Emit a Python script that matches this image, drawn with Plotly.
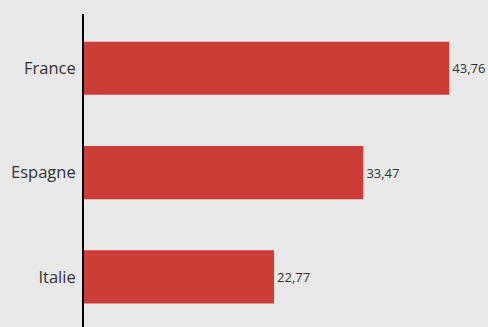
import plotly.graph_objects as go

countries = ["France", "Espagne", "Italie"]
values = [43.76, 33.47, 22.77]

fig = go.Figure(go.Bar(
    x=values, y=countries, orientation="h",
    marker=dict(color="#cc3d37", line=dict(width=0)),
    text=values, texttemplate="%{x:.2f}", textposition="outside",
    textfont=dict(family="Open Sans", size=13, color="#333333"),
    cliponaxis=False, width=0.51,
))

fig.update_layout(
    width=488, height=327,
    margin=dict(l=84, r=0, t=14, b=0, autoexpand=False),
    paper_bgcolor="#e8e8e8", plot_bgcolor="#e8e8e8",
    separators=", ",
    showlegend=False,
    font=dict(family="Open Sans", color="#333333"),
)
fig.update_xaxes(range=[0, 48.4], visible=False, showgrid=False, zeroline=False)
fig.update_yaxes(
    type="category", categoryorder="array", categoryarray=countries,
    range=[2.48, -0.52], showline=True, linecolor="#000000", linewidth=2,
    showgrid=False, zeroline=False, ticks="", ticklabelstandoff=3,
    tickfont=dict(family="Open Sans", size=16.5, color="#333333"),
)

fig.write_html("out.html", config={"displayModeBar": False},
               post_script=["document.body.style.margin='0';"])
